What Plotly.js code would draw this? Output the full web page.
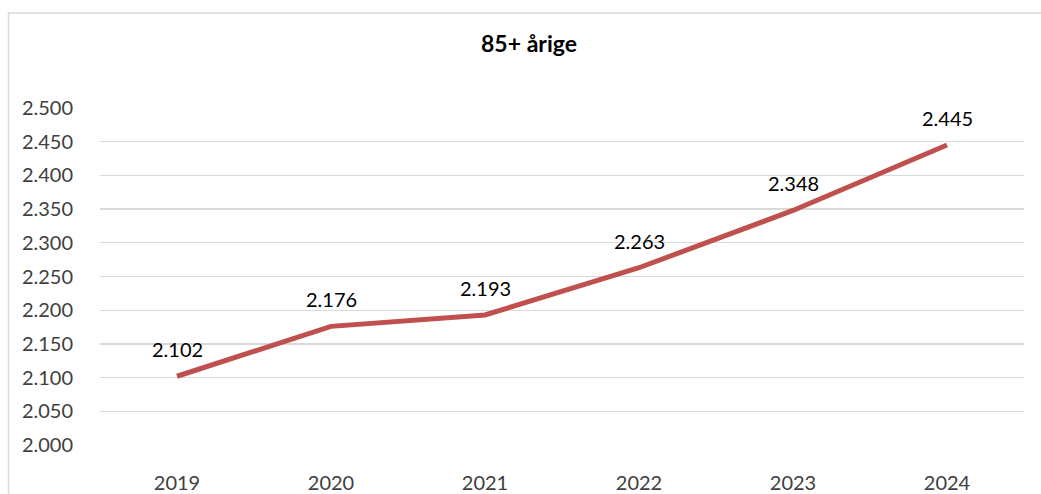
<!DOCTYPE html>
<html>
<head>
<meta charset="utf-8">
<script src="https://cdn.plot.ly/plotly-3.0.1.min.js"></script>
<style>html,body{margin:0;padding:0;background:#fff;}#chart{width:1041px;height:494px;}</style>
</head>
<body>
<div id="chart"></div>
<script>
const years = ["2019", "2020", "2021", "2022", "2023", "2024"];
const values = [2102, 2176, 2193, 2263, 2348, 2445];
const yTicks = [2000, 2050, 2100, 2150, 2200, 2250, 2300, 2350, 2400, 2450, 2500];
const chartTitle = "85+ årige";

function fmt(v) {
  return String(v).replace(/\B(?=(\d{3})+(?!\d))/g, ".");
}

const trace = {
  x: years,
  y: values,
  type: "scatter",
  mode: "lines",
  line: {color: "#C0504D", width: 5},
  hoverinfo: "skip"
};

// category axis: annotation x is the category index
const annotations = years.map((yr, i) => ({
  x: i, y: values[i], xref: "x", yref: "y",
  text: fmt(values[i]), showarrow: false,
  yanchor: "middle", yshift: 27,
  font: {family: "Lato, 'Open Sans', sans-serif", size: 20, color: "#000000"}
}));

const layout = {
  width: 1041, height: 494,
  margin: {l: 100, r: 17, t: 108, b: 49},
  paper_bgcolor: "#ffffff",
  plot_bgcolor: "#ffffff",
  separators: ",.",
  showlegend: false,
  font: {family: "Lato, 'Open Sans', sans-serif", size: 20, color: "#404040"},
  title: {
    text: "<b>" + chartTitle + "</b>",
    x: 529 / 1041, xanchor: "center", xref: "container",
    y: 1 - 44 / 494, yanchor: "middle", yref: "container",
    font: {family: "Lato, 'Open Sans', sans-serif", size: 23, color: "#000000"}
  },
  xaxis: {
    type: "category",
    range: [-0.5, 5.5],
    showgrid: false, zeroline: false, showline: false,
    ticks: "outside", ticklen: 20, tickcolor: "rgba(0,0,0,0)",
    tickfont: {size: 20, color: "#404040"},
    fixedrange: true
  },
  yaxis: {
    range: [2000, 2500],
    tickvals: yTicks,
    ticktext: yTicks.map(fmt),
    showgrid: true, gridcolor: "#D9D9D9", gridwidth: 1.3,
    zeroline: false, showline: false,
    ticks: "outside", ticklen: 22, tickcolor: "rgba(0,0,0,0)",
    tickfont: {size: 20, color: "#404040"},
    fixedrange: true
  },
  shapes: [{
    type: "rect", xref: "paper", yref: "paper",
    x0: (8.5 - 100) / 924, x1: 1.3,
    y0: -0.6, y1: (445 - 13) / 337,
    line: {color: "#D9D9D9", width: 1.5},
    fillcolor: "rgba(0,0,0,0)",
    layer: "below"
  }],
  annotations: annotations
};

Plotly.newPlot("chart", [trace], layout, {displayModeBar: false, staticPlot: true});
</script>
</body>
</html>
